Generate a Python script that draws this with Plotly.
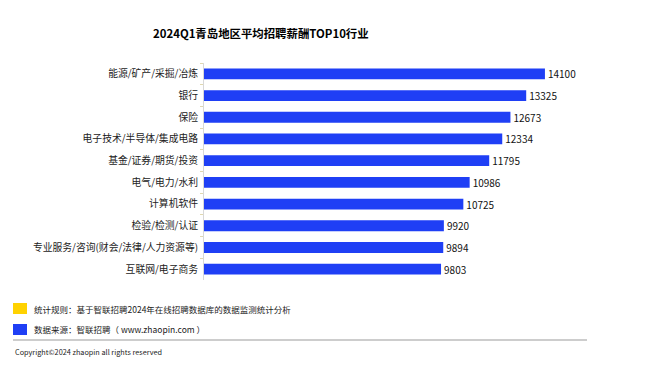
import plotly.graph_objects as go

categories = ["能源/矿产/采掘/冶炼", "银行", "保险", "电子技术/半导体/集成电路",
              "基金/证券/期货/投资", "电气/电力/水利", "计算机软件", "检验/检测/认证",
              "专业服务/咨询(财会/法律/人力资源等)", "互联网/电子商务"]
values = [14100, 13325, 12673, 12334, 11795, 10986, 10725, 9920, 9894, 9803]

title_text = "2024Q1青岛地区平均招聘薪酬TOP10行业"
note1 = "统计规则：基于智联招聘2024年在线招聘数据库的数据监测统计分析"
note2 = "数据来源：智联招聘（ www.zhaopin.com ）"
copyright_text = "Copyright©2024 zhaopin all rights reserved"

BLUE = "#1f3ff5"
YELLOW = "#ffd200"
FONT = "Noto Sans CJK SC"

fig = go.Figure(go.Bar(
    y=categories, x=values, orientation="h",
    marker=dict(color=BLUE, line=dict(width=0)),
    width=0.5,
    text=[str(v) for v in values], textposition="outside",
    constraintext="none",
    textfont=dict(size=10, color="#111111", family=FONT),
    cliponaxis=False,
))

# page body has an 8px default margin, so the figure is drawn 8px smaller
fig.update_layout(
    width=652, height=359,
    margin=dict(l=196, r=40, t=55, b=87),
    paper_bgcolor="white", plot_bgcolor="white",
    font=dict(family=FONT),
    showlegend=False,
    xaxis=dict(range=[0, 17204], visible=False, showgrid=False, zeroline=False, automargin=False),
    yaxis=dict(autorange="reversed", showgrid=False, zeroline=False, automargin=False,
               showline=True, linecolor="#d8d8d8", linewidth=1,
               ticks="outside", tickson="boundaries", ticklen=3, tickcolor="#e0d8b0",
               ticklabelstandoff=3,
               tickfont=dict(size=9.8, color="#222222", family=FONT)),
    bargap=0.5,
)

fig.add_annotation(text="<b>" + title_text + "</b>", xref="paper", yref="paper",
                   x=(261 - 204) / 416, y=1 + (63 - 33) / 217, xanchor="center", yanchor="middle",
                   showarrow=False, font=dict(size=11.4, color="#000000", family=FONT))

def px_x(px):
    return (px - 204) / 416

def px_y(py):
    return (280 - py) / 217

fig.add_shape(type="rect", xref="paper", yref="paper",
              x0=px_x(13), x1=px_x(27), y0=px_y(314), y1=px_y(303),
              fillcolor=YELLOW, line=dict(width=0))
fig.add_shape(type="rect", xref="paper", yref="paper",
              x0=px_x(13), x1=px_x(27), y0=px_y(335), y1=px_y(324),
              fillcolor=BLUE, line=dict(width=0))
fig.add_annotation(text=note1, xref="paper", yref="paper", x=px_x(32), y=px_y(309),
                   xanchor="left", yanchor="middle", showarrow=False,
                   font=dict(size=8.5, color="#222222", family=FONT))
fig.add_annotation(text=note2, xref="paper", yref="paper", x=px_x(32), y=px_y(329),
                   xanchor="left", yanchor="middle", showarrow=False,
                   font=dict(size=8.5, color="#222222", family=FONT))
fig.add_shape(type="line", xref="paper", yref="paper",
              x0=px_x(13), x1=px_x(587), y0=px_y(340), y1=px_y(340),
              line=dict(color="#bdbdbd", width=1.5))
fig.add_annotation(text=copyright_text, xref="paper", yref="paper", x=px_x(13), y=px_y(352),
                   xanchor="left", yanchor="middle", showarrow=False,
                   font=dict(size=7.3, color="#222222", family=FONT))

fig.write_html("out.html")
